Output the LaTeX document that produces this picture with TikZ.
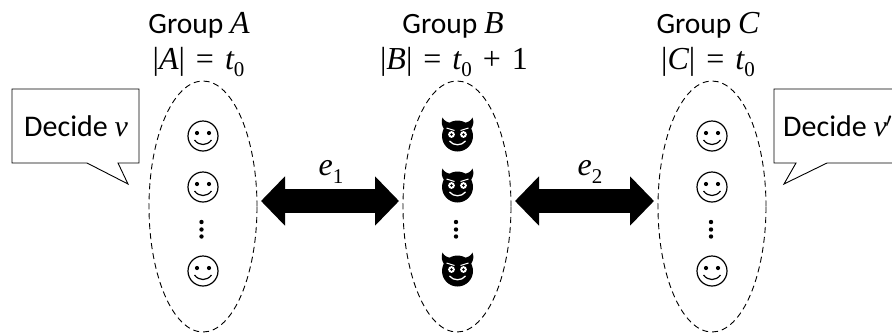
\documentclass[tikz,border=0pt]{standalone}
\usepackage{fontspec}
\setmainfont{Carlito}
\newfontfamily\mathf{Liberation Serif}[Ligatures=TeX]
\usetikzlibrary{arrows.meta,shapes.geometric}
\newcommand{\mi}[1]{{\fontsize{32}{32}\selectfont\mathf\itshape #1}}
\newcommand{\mr}[1]{{\fontsize{32}{32}\selectfont\mathf #1}}
\newcommand{\vv}[1]{{\fontsize{30}{30}\selectfont\mathf\itshape #1}}
\newcommand{\subz}[1]{\raisebox{-0.25em}{\fontsize{21}{21}\selectfont\mathf #1}}
\newcommand{\gp}{\hspace{11pt}}
\tikzset{
  x=1pt,y=-1pt,
  groupell/.style={draw,line width=0.9pt,ellipse,minimum width=108pt,minimum height=251pt,inner sep=0pt,dash pattern=on 6pt off 4pt},
  titletext/.style={inner sep=0pt,font=\fontsize{29.5}{30}\selectfont,anchor=center},
  decidetext/.style={inner sep=0pt,font=\fontsize{30}{30}\selectfont},
  edgelab/.style={inner sep=0pt,font=\fontsize{30}{30}\selectfont},
  bigarrow/.style={line width=24pt,{Triangle[width=48pt,length=24pt]}-{Triangle[width=48pt,length=24pt]},shorten <=4pt,shorten >=4pt},
  callout/.style={draw,line width=0.9pt,fill=white,line join=miter},
  smiley/.pic={
    \draw[line width=1.2pt] (0,0) circle (15);
    \fill (-6,-3) circle (2.1);
    \fill (6,-3) circle (2.1);
    \draw[line width=1.2pt] (-8.5,4) .. controls (-4,10) and (4,10) .. (8.5,4);
  },
  devil/.pic={
    \fill (-15,-18.5) .. controls (-16.5,-14) and (-16,-11) .. (-13.5,-7) -- (-6,-13) .. controls (-10,-13.5) and (-13.5,-15) .. (-15,-18.5) -- cycle;
    \fill (15,-18.5) .. controls (16.5,-14) and (16,-11) .. (13.5,-7) -- (6,-13) .. controls (10,-13.5) and (13.5,-15) .. (15,-18.5) -- cycle;
    \fill (0,0) circle (15.5);
    \fill[white] (-6,-1.5) circle (3.4);
    \fill[white] (6,-1.5) circle (3.4);
    \fill (-6,-1.5) circle (1.4);
    \fill (6,-1.5) circle (1.4);
    \draw[white,line width=1pt] (-11,-8) -- (-3,-5.5);
    \draw[white,line width=1pt] (11,-8) -- (3,-5.5);
    \draw[white,line width=1.3pt] (-8,5) .. controls (-4,10) and (4,10) .. (8,5);
  },
}
\begin{document}
\begin{tikzpicture}
\useasboundingbox (0,0) rectangle (892,333);
\clip (0,0) rectangle (892,333);
\node[groupell] (A) at (203,206.5) {};
\node[groupell] (B) at (457,206.5) {};
\node[groupell] (C) at (712,206.5) {};
\coordinate (ae) at (257,201);
\coordinate (bw) at (403,201);
\coordinate (be) at (511,201);
\coordinate (cw) at (658,201);
\draw[bigarrow] (ae) -- (bw);
\draw[bigarrow] (be) -- (cw);
\node[edgelab] (e1) at (331,172) {\mi{e}\subz{1}};
\node[edgelab] (e2) at (590,172) {\mi{e}\subz{2}};
\node[titletext] (ta) at (199,25) {Group \mi{A}};
\node[titletext] (tb) at (453,25) {Group \mi{B}};
\node[titletext] (tc) at (708,25) {Group \mi{C}};
\node[titletext] (sa) at (198.5,62) {\mr{|}\mi{A}\mr{|}\gp\mr{=}\gp\mi{t}\subz{0}};
\node[titletext] (sb) at (454,62) {\mr{|}\mi{B}\mr{|}\gp\mr{=}\gp\mi{t}\subz{0}\gp\mr{+}\gp\mr{1}};
\node[titletext] (sc) at (708,62) {\mr{|}\mi{C}\mr{|}\gp\mr{=}\gp\mi{t}\subz{0}};
\draw[callout] (12,89) -- (139,89) -- (139,163) -- (118,163) -- (128,184) -- (87,163) -- (12,163) -- cycle;
\draw[callout] (774,89) -- (900,89) -- (900,163) -- (827,163) -- (784,184) -- (796,163) -- (774,163) -- cycle;
\node[decidetext,anchor=west] (da) at (24,126) {Decide \vv{v}};
\node[decidetext,anchor=west] (dc) at (783,126) {Decide \vv{v}\kern-1pt$'$};
\foreach \y in {136,187,271}{
  \pic at (203,\y) {smiley};
  \pic at (712,\y) {smiley};
  \pic at (457.5,\y) {devil};
}
\foreach \x in {201.5,456,711}{
  \foreach \y in {222,229.5,236.5}{
    \fill (\x,\y) circle (2.2);
  }
}
\end{tikzpicture}
\end{document}
